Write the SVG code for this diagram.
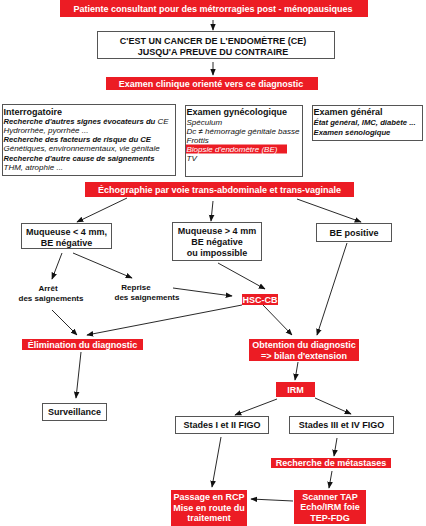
<svg xmlns="http://www.w3.org/2000/svg" width="426" height="526" viewBox="0 0 426 526">
<style>
text{font-family:"Liberation Sans",Arial,sans-serif;font-size:9px;font-weight:bold;fill:#111}
.c{text-anchor:middle}
.w{fill:#fff}
.red{fill:#ec1c24}
.box{fill:#fff;stroke:#555;stroke-width:1}
.s{font-size:8px}
.i{font-style:italic;font-weight:normal}
.bi{font-style:italic;font-weight:bold;font-size:7.7px}
.con line{stroke:#111;stroke-width:0.9;marker-end:url(#ah)}
</style>
<defs>
<marker id="ah" viewBox="0 0 10 10" refX="9" refY="5" markerWidth="7" markerHeight="7" markerUnits="userSpaceOnUse" orient="auto"><path d="M0,1 L10,5 L0,9 z" fill="#111"/></marker>
</defs>
<rect width="426" height="526" fill="#fff"/>
<g id="n1"><rect class="red" x="60" y="0" width="308" height="17"/><text class="c w" x="213" y="11.5">Patiente consultant pour des métrorragies post - ménopausiques</text></g>
<g id="n2"><rect class="box" x="97.5" y="31.5" width="237" height="27"/><text class="c" x="213" y="43.5">C'EST UN CANCER DE L'ENDOMÈTRE (CE)</text><text class="c" x="213" y="54.5">JUSQU'A PREUVE DU CONTRAIRE</text></g>
<g id="n3"><rect class="red" x="106" y="77" width="212" height="13"/><text class="c w" x="211" y="86.8">Examen clinique orienté vers ce diagnostic</text></g>
<g id="n4"><rect class="box" x="2.5" y="104.5" width="173" height="71"/>
<text x="3.5" y="115">Interrogatoire</text>
<text class="s" x="3.5" y="124"><tspan class="bi">Recherche d'autres signes évocateurs du</tspan><tspan class="i"> CE</tspan></text>
<text class="s i" x="3.5" y="132.5">Hydrorrhée, pyorrhée ...</text>
<text class="s bi" x="3.5" y="142">Recherche des facteurs de risque du CE</text>
<text class="s i" x="3.5" y="151">Génétiques, environnementaux, vie génitale</text>
<text class="s bi" x="3.5" y="161">Recherche d'autre cause de saignements</text>
<text class="s i" x="3.5" y="169.5">THM, atrophie ...</text></g>
<g id="n5"><rect class="box" x="185.5" y="105.5" width="117" height="71"/>
<text x="186.5" y="115">Examen gynécologique</text>
<text class="s i" x="186.5" y="124.5">Spéculum</text>
<text class="s i" x="186.5" y="133.5">Dc ≠ hémorragie génitale basse</text>
<text class="s i" x="186.5" y="142.5">Frottis</text>
<rect class="red" x="186" y="144.5" width="101" height="9"/>
<text class="s i w" x="186.5" y="151.5">Biopsie d'endomètre (BE)</text>
<text class="s i" x="186.5" y="160.5">TV</text></g>
<g id="n6"><rect class="box" x="312.5" y="105.5" width="110" height="35"/>
<text x="313.5" y="115">Examen général</text>
<text class="s bi" x="313.5" y="124.5">État général, IMC, diabète ...</text>
<text class="s bi" x="313.5" y="135">Examen sénologique</text></g>
<g id="n7"><rect class="red" x="85" y="182" width="269" height="15"/><text class="c w" x="219.5" y="192.5">Échographie par voie trans-abdominale et trans-vaginale</text></g>
<g id="n8"><rect class="box" x="21.5" y="223.5" width="90" height="25"/><text class="c" x="66.5" y="235">Muqueuse &lt; 4 mm,</text><text class="c" x="66.5" y="245.5">BE négative</text></g>
<g id="n9"><rect class="box" x="172.5" y="222.5" width="89" height="38"/><text class="c" x="217" y="233.5">Muqueuse &gt; 4 mm</text><text class="c" x="217" y="244.5">BE négative</text><text class="c" x="217" y="255.5">ou impossible</text></g>
<g id="n10"><rect class="box" x="316.5" y="223.5" width="75" height="18"/><text class="c" x="354" y="235.5">BE positive</text></g>
<g id="n11"><text class="c s" x="48" y="291">Arrêt</text><text class="c s" x="51" y="301">des saignements</text></g>
<g id="n12"><text class="c s" x="136" y="290">Reprise</text><text class="c s" x="147" y="300">des saignements</text></g>
<g id="n13"><rect class="red" x="242" y="294" width="36" height="11"/><text class="c w" x="260" y="302.8">HSC-CB</text></g>
<g id="n14"><rect class="red" x="22" y="339" width="121" height="11"/><text class="c w" x="82.5" y="347.8">Élimination du diagnostic</text></g>
<g id="n15"><rect class="red" x="249" y="339" width="110" height="22"/><text class="c w" x="304" y="347.8">Obtention du diagnostic</text><text class="c w" x="304" y="358.5">=&gt; bilan d'extension</text></g>
<g id="n16"><rect class="box" x="42.5" y="403.5" width="64" height="17"/><text class="c" x="74.5" y="415.3">Surveillance</text></g>
<g id="n17"><rect class="red" x="276" y="382" width="39" height="15"/><text class="c w" x="295.5" y="392.8">IRM</text></g>
<g id="n18"><rect class="box" x="175.5" y="416.5" width="93" height="17"/><text class="c" x="222" y="428.3">Stades I et II FIGO</text></g>
<g id="n19"><rect class="box" x="289.5" y="416.5" width="104" height="17"/><text class="c" x="341.5" y="428.3">Stades III et IV FIGO</text></g>
<g id="n20"><rect class="red" x="271" y="458" width="120" height="10"/><text class="c w" x="331" y="466.3">Recherche de métastases</text></g>
<g id="n21"><rect class="red" x="294" y="490" width="72" height="34"/><text class="c w" x="330" y="499.5">Scanner TAP</text><text class="c w" x="330" y="510.3">Echo/IRM foie</text><text class="c w" x="330" y="520.8">TEP-FDG</text></g>
<g id="n22"><rect class="red" x="171" y="490" width="76" height="36"/><text class="c w" x="209" y="500.3">Passage en RCP</text><text class="c w" x="209" y="510.8">Mise en route du</text><text class="c w" x="209" y="521.3">traitement</text></g>
<g class="con" id="connectors">
<line x1="213" y1="20" x2="213" y2="30"/>
<line x1="213" y1="62" x2="213" y2="75"/>
<line x1="127" y1="198" x2="77" y2="222"/>
<line x1="213" y1="201" x2="211" y2="221"/>
<line x1="297" y1="199" x2="361" y2="222"/>
<line x1="62" y1="253" x2="52" y2="279"/>
<line x1="73" y1="253" x2="132" y2="278"/>
<line x1="173" y1="288" x2="232" y2="296"/>
<line x1="218" y1="263" x2="265" y2="289"/>
<line x1="347" y1="243" x2="317" y2="335"/>
<line x1="242" y1="305" x2="87" y2="335"/>
<line x1="263" y1="305" x2="292" y2="335"/>
<line x1="52" y1="310" x2="77" y2="335"/>
<line x1="81" y1="352" x2="76" y2="398"/>
<line x1="298" y1="362" x2="295" y2="380"/>
<line x1="277" y1="399" x2="235" y2="415"/>
<line x1="315" y1="398" x2="351" y2="414"/>
<line x1="221" y1="437" x2="212" y2="487"/>
<line x1="337" y1="438" x2="334" y2="456"/>
<line x1="332" y1="471" x2="329" y2="488"/>
<line x1="293" y1="501" x2="251" y2="499"/>
</g>
</svg>
